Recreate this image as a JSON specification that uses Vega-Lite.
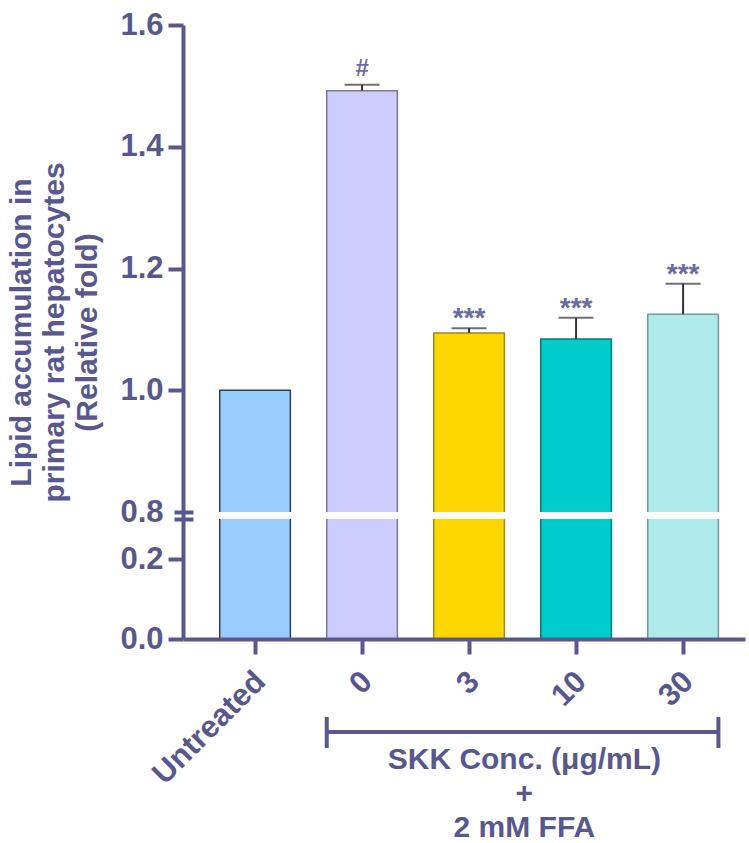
{
  "$schema": "https://vega.github.io/schema/vega-lite/v6.json",
  "width": 562,
  "height": 614,
  "autosize": "none",
  "padding": {"left": 183, "top": 25, "right": 4, "bottom": 204},
  "background": "white",
  "config": {
    "view": {"stroke": null},
    "font": "Liberation Sans",
    "axis": {"grid": false}
  },
  "datasets": {
    "bars": [
      {"group": "Untreated", "mean": 1.0, "upper": 1.0, "sig": ""},
      {"group": "0", "mean": 1.492, "upper": 1.502, "sig": "#"},
      {"group": "3", "mean": 1.094, "upper": 1.102, "sig": "***"},
      {"group": "10", "mean": 1.084, "upper": 1.119, "sig": "***"},
      {"group": "30", "mean": 1.125, "upper": 1.175, "sig": "***"}
    ],
    "bracket": [
      {"group": "0", "to": "30", "y": -0.2325, "capTop": -0.195, "capBottom": -0.2725}
    ],
    "notes": [
      {"group": "3", "label": "SKK Conc. (μg/mL)", "y": -0.3025},
      {"group": "3", "label": "+", "y": -0.3875},
      {"group": "3", "label": "2 mM FFA", "y": -0.4725}
    ]
  },
  "resolve": {"axis": {"y": "independent"}},
  "layer": [
    {
      "data": {"name": "bars"},
      "mark": {"type": "bar", "strokeWidth": 1.5},
      "encoding": {
        "x": {
          "field": "group", "type": "nominal",
          "scale": {"domain": ["Untreated", "0", "3", "10", "30"], "paddingInner": 0.34, "paddingOuter": 0.296, "align": 0.58},
          "axis": {
            "title": null, "bandPosition": 0.5, "domainColor": "#58588e", "domainWidth": 4,
            "tickColor": "#58588e", "tickWidth": 4, "tickSize": 15,
            "labelFont": "Liberation Sans", "labelFontSize": 31, "labelFontWeight": "bold", "labelColor": "#58588e",
            "labelAngle": -45, "labelAlign": "right", "labelBaseline": "top", "labelPadding": 12, "labelOffset": -5, "zindex": 1
          }
        },
        "y": {
          "field": "mean", "type": "quantitative",
          "scale": {"domain": [0, 0.3, 0.8, 1.6], "range": [614, 494, 487, 0], "zero": false, "nice": false},
          "axis": {
            "orient": "left",
            "values": [0, 0.2, 0.8, 1.0, 1.2, 1.4, 1.6], "format": ".1f",
            "domainColor": "#58588e", "domainWidth": 4,
            "tickColor": "#58588e", "tickWidth": 4, "tickSize": 15,
            "tickOpacity": {"condition": {"test": "datum.value === 0.8", "value": 0}, "value": 1},
            "labelFont": "Liberation Sans", "labelFontSize": 31, "labelFontWeight": "bold", "labelColor": "#58588e", "labelPadding": 5,
            "title": ["Lipid accumulation in", "primary rat hepatocytes", "(Relative fold)"],
            "titleFont": "Liberation Sans", "titleFontSize": 30, "titleFontWeight": "bold", "titleColor": "#58588e",
            "titleLineHeight": 33, "titlePadding": 17, "zindex": 1
          }
        },
        "fill": {
          "field": "group", "type": "nominal", "legend": null,
          "scale": {"domain": ["Untreated", "0", "3", "10", "30"], "range": ["#99ccff", "#ccccff", "#ffd700", "#00cccc", "#b0ebeb"]}
        },
        "stroke": {
          "field": "group", "type": "nominal", "legend": null,
          "scale": {"domain": ["Untreated", "0", "3", "10", "30"], "range": ["#2f3f55", "#7a7a98", "#a08a10", "#007f80", "#6f9c9c"]}
        }
      }
    },
    {
      "data": {"values": [{"lo": 0.3, "hi": 0.8}]},
      "mark": {"type": "rect", "color": "white"},
      "encoding": {
        "y": {
          "field": "lo", "type": "quantitative",
          "scale": {"domain": [0, 0.3, 0.8, 1.6], "range": [614, 494, 487, 0], "zero": false, "nice": false},
          "axis": {
            "orient": "left", "values": [0.3, 0.8], "labels": false, "domain": false, "title": null,
            "tickColor": "#58588e", "tickWidth": 4, "tickSize": 19, "offset": -10, "zindex": 2
          }
        },
        "y2": {"field": "hi"}
      }
    },
    {
      "data": {"name": "bars"},
      "transform": [{"filter": "datum.upper > datum.mean"}],
      "mark": {"type": "rule", "color": "#333333", "strokeWidth": 2},
      "encoding": {
        "x": {"field": "group", "type": "nominal"},
        "y": {"field": "mean", "type": "quantitative", "axis": null},
        "y2": {"field": "upper"}
      }
    },
    {
      "data": {"name": "bars"},
      "transform": [{"filter": "datum.upper > datum.mean"}],
      "mark": {"type": "tick", "color": "#333333", "size": 35, "thickness": 2},
      "encoding": {
        "x": {"field": "group", "type": "nominal"},
        "y": {"field": "upper", "type": "quantitative", "axis": null}
      }
    },
    {
      "data": {"name": "bars"},
      "transform": [{"filter": "datum.sig === '***'"}],
      "mark": {"type": "text", "color": "#6b6ba3", "fontSize": 28, "fontWeight": "bold", "baseline": "alphabetic", "dy": -1},
      "encoding": {
        "x": {"field": "group", "type": "nominal"},
        "y": {"field": "upper", "type": "quantitative", "axis": null},
        "text": {"field": "sig"}
      }
    },
    {
      "data": {"name": "bars"},
      "transform": [{"filter": "datum.sig === '#'"}],
      "mark": {"type": "text", "color": "#6b6ba3", "fontSize": 24, "fontWeight": "bold", "baseline": "alphabetic", "dy": -9},
      "encoding": {
        "x": {"field": "group", "type": "nominal"},
        "y": {"field": "upper", "type": "quantitative", "axis": null},
        "text": {"field": "sig"}
      }
    },
    {
      "data": {"name": "bracket"},
      "mark": {"type": "rule", "color": "#58588e", "strokeWidth": 4},
      "encoding": {
        "x": {"field": "group", "type": "nominal", "bandPosition": 0},
        "x2": {"field": "to", "bandPosition": 1},
        "y": {"field": "y", "type": "quantitative", "axis": null}
      }
    },
    {
      "data": {"name": "bracket"},
      "mark": {"type": "rule", "color": "#58588e", "strokeWidth": 4},
      "encoding": {
        "x": {"field": "group", "type": "nominal", "bandPosition": 0},
        "y": {"field": "capTop", "type": "quantitative", "axis": null},
        "y2": {"field": "capBottom"}
      }
    },
    {
      "data": {"name": "bracket"},
      "mark": {"type": "rule", "color": "#58588e", "strokeWidth": 4},
      "encoding": {
        "x": {"field": "to", "type": "nominal", "bandPosition": 1, "title": null},
        "y": {"field": "capTop", "type": "quantitative", "axis": null},
        "y2": {"field": "capBottom"}
      }
    },
    {
      "data": {"name": "notes"},
      "mark": {"type": "text", "color": "#58588e", "fontSize": 30, "fontWeight": "bold", "baseline": "middle", "align": "center", "dx": 20},
      "encoding": {
        "x": {"field": "group", "type": "nominal", "bandPosition": 1},
        "y": {"field": "y", "type": "quantitative", "axis": null},
        "text": {"field": "label"}
      }
    }
  ]
}
